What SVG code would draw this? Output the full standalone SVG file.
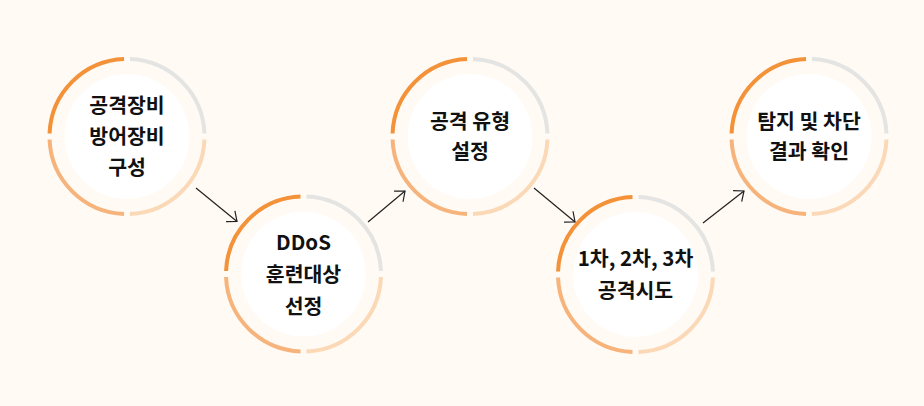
<svg xmlns="http://www.w3.org/2000/svg" width="924" height="406" viewBox="0 0 924 406">
  <defs>
    <style>
      .bg { fill: #FFFAF4; }
      .inner { fill: #FFFFFF; }
      .seg { fill: none; stroke-width: 4; stroke-dasharray: 95 305; }
      .tl { stroke: #F39239; stroke-dashoffset: -202.5; }
      .tr { stroke: #E4E4E3; stroke-dashoffset: -302.5; }
      .br { stroke: #FBD8B6; stroke-dashoffset: -2.5; }
      .bl { stroke: #F6B47C; stroke-dashoffset: -102.5; }
      .label { font-family: "Noto Sans CJK KR", "Noto Sans", sans-serif; font-weight: 700; font-size: 20.5px; fill: #111111; text-anchor: middle; }
      .conn { stroke: #222222; stroke-width: 1.2; fill: none; marker-end: url(#arrow); }
    </style>
    <marker id="arrow" viewBox="-10 -8 12 16" markerWidth="12" markerHeight="16" refX="0" refY="0" orient="auto" markerUnits="userSpaceOnUse">
      <path d="M-8.4,-7 L0,0 L-8.4,7" fill="none" stroke="#222222" stroke-width="1.2"/>
    </marker>
  </defs>
  <rect class="bg" x="0" y="0" width="924" height="406"/>

  <g id="node1">
    <circle class="inner" cx="127" cy="136.5" r="62.5"/>
    <circle class="seg tl" cx="127" cy="136.5" r="77.5" pathLength="400"/>
    <circle class="seg tr" cx="127" cy="136.5" r="77.5" pathLength="400"/>
    <circle class="seg br" cx="127" cy="136.5" r="77.5" pathLength="400"/>
    <circle class="seg bl" cx="127" cy="136.5" r="77.5" pathLength="400"/>
    <text class="label" x="127" y="112.5">공격장비</text>
    <text class="label" x="127" y="143.5">방어장비</text>
    <text class="label" x="127" y="174.5">구성</text>
  </g>

  <g id="node2">
    <circle class="inner" cx="303.5" cy="274" r="62.5"/>
    <circle class="seg tl" cx="303.5" cy="274" r="77.5" pathLength="400"/>
    <circle class="seg tr" cx="303.5" cy="274" r="77.5" pathLength="400"/>
    <circle class="seg br" cx="303.5" cy="274" r="77.5" pathLength="400"/>
    <circle class="seg bl" cx="303.5" cy="274" r="77.5" pathLength="400"/>
    <text class="label" x="303.5" y="249.5">DDoS</text>
    <text class="label" x="303.5" y="281.5">훈련대상</text>
    <text class="label" x="303.5" y="313.5">선정</text>
  </g>

  <g id="node3">
    <circle class="inner" cx="470" cy="136.5" r="62.5"/>
    <circle class="seg tl" cx="470" cy="136.5" r="77.5" pathLength="400"/>
    <circle class="seg tr" cx="470" cy="136.5" r="77.5" pathLength="400"/>
    <circle class="seg br" cx="470" cy="136.5" r="77.5" pathLength="400"/>
    <circle class="seg bl" cx="470" cy="136.5" r="77.5" pathLength="400"/>
    <text class="label" x="470" y="128.5">공격 유형</text>
    <text class="label" x="470" y="158.5">설정</text>
  </g>

  <g id="node4">
    <circle class="inner" cx="635.5" cy="274.5" r="62.5"/>
    <circle class="seg tl" cx="635.5" cy="274.5" r="77.5" pathLength="400"/>
    <circle class="seg tr" cx="635.5" cy="274.5" r="77.5" pathLength="400"/>
    <circle class="seg br" cx="635.5" cy="274.5" r="77.5" pathLength="400"/>
    <circle class="seg bl" cx="635.5" cy="274.5" r="77.5" pathLength="400"/>
    <text class="label" x="635.5" y="265.5">1차, 2차, 3차</text>
    <text class="label" x="635.5" y="297.5">공격시도</text>
  </g>

  <g id="node5">
    <circle class="inner" cx="809" cy="136.5" r="62.5"/>
    <circle class="seg tl" cx="809" cy="136.5" r="77.5" pathLength="400"/>
    <circle class="seg tr" cx="809" cy="136.5" r="77.5" pathLength="400"/>
    <circle class="seg br" cx="809" cy="136.5" r="77.5" pathLength="400"/>
    <circle class="seg bl" cx="809" cy="136.5" r="77.5" pathLength="400"/>
    <text class="label" x="809" y="128.5">탐지 및 차단</text>
    <text class="label" x="809" y="158.5">결과 확인</text>
  </g>

  <g id="connectors">
    <line class="conn" x1="196" y1="188" x2="237" y2="221.5"/>
    <line class="conn" x1="368" y1="222" x2="405" y2="191"/>
    <line class="conn" x1="534" y1="188" x2="575" y2="222"/>
    <line class="conn" x1="703" y1="223" x2="744" y2="191"/>
  </g>
</svg>
